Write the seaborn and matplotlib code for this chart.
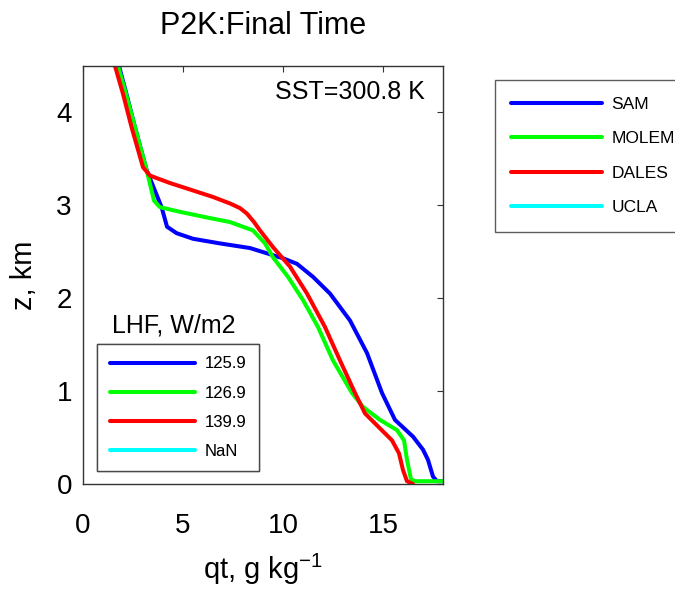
import numpy as np
import pandas as pd
import matplotlib
matplotlib.use("Agg")
import matplotlib.pyplot as plt
from matplotlib.lines import Line2D
import seaborn as sns

# ---- data ----
models = ["SAM", "MOLEM", "DALES", "UCLA"]
lhf_labels = ["125.9", "126.9", "139.9", "NaN"]
colors = ["#0000ff", "#00ff00", "#ff0000", "#00ffff"]

z_sam = [4.5, 4.2, 3.84, 3.38, 2.98, 2.77, 2.70, 2.64, 2.59, 2.54, 2.48, 2.43, 2.37,
         2.23, 2.05, 1.76, 1.41, 0.98, 0.69, 0.51, 0.37, 0.26, 0.08, 0.03, 0.03]
qt_sam = [1.8, 2.17, 2.6, 3.18, 3.93, 4.2, 4.68, 5.5, 6.85, 8.35, 9.25, 10.0, 10.7,
          11.5, 12.35, 13.35, 14.2, 14.95, 15.6, 16.5, 17.0, 17.25, 17.5, 17.7, 18.5]

z_molem = [4.5, 4.2, 3.84, 3.38, 3.05, 2.98, 2.93, 2.87, 2.82, 2.73, 2.59, 2.44, 2.23,
           1.98, 1.69, 1.33, 0.98, 0.83, 0.69, 0.58, 0.47, 0.26, 0.05, 0.03, 0.03]
qt_molem = [1.75, 2.15, 2.6, 3.18, 3.55, 3.85, 4.85, 6.18, 7.35, 8.5, 9.1, 9.5, 10.25,
            11.0, 11.75, 12.5, 13.45, 14.0, 14.85, 15.7, 16.05, 16.2, 16.4, 16.6, 18.5]

z_dales = [4.5, 4.2, 3.84, 3.41, 3.32, 3.24, 3.16, 3.09, 3.02, 2.97, 2.91, 2.82, 2.73,
           2.55, 2.34, 2.05, 1.69, 1.33, 0.98, 0.76, 0.62, 0.47, 0.33, 0.15, 0.03, 0.0]
qt_dales = [1.6, 2.0, 2.43, 3.0, 3.35, 4.35, 5.5, 6.5, 7.35, 7.85, 8.2, 8.55, 8.85,
            9.5, 10.35, 11.2, 12.1, 12.85, 13.6, 14.1, 14.75, 15.45, 15.8, 16.0, 16.2, 16.5]

z_ucla = []
qt_ucla = []

x_ticks = [0, 5, 10, 15]
y_ticks = [0, 1, 2, 3, 4]

# ---- build long table ----
frames = []
for name, z, q in zip(models, [z_sam, z_molem, z_dales, z_ucla],
                      [qt_sam, qt_molem, qt_dales, qt_ucla]):
    frames.append(pd.DataFrame({"model": name, "z": z, "qt": q}))
df = pd.concat(frames, ignore_index=True)

sns.set_style("white")
plt.rcParams["font.family"] = ["Liberation Sans", "DejaVu Sans"]
plt.rcParams["mathtext.fontset"] = "custom"
plt.rcParams["mathtext.rm"] = "Liberation Sans"
plt.rcParams["mathtext.default"] = "regular"
for k in ["text.color", "axes.labelcolor", "xtick.labelcolor", "ytick.labelcolor"]:
    plt.rcParams[k] = "black"

fig = plt.figure(figsize=(6.75, 5.97), dpi=100)
ax = fig.add_axes([83/675, 1-484/597, 360/675, 418/597])

palette = dict(zip(models, colors))
for name in models:
    sub = df[df["model"] == name]
    if len(sub) == 0:
        continue
    sns.lineplot(data=sub, x="qt", y="z", sort=False, estimator=None,
                 color=palette[name], lw=2.9, ax=ax, legend=False)

ax.set_xlim(0, 18)
ax.set_ylim(0, 4.5)
ax.set_xticks(x_ticks)
ax.set_yticks(y_ticks)
ax.tick_params(axis="both", direction="in", top=True, right=True, length=4,
               width=0.8, labelsize=20, color="#333333")
ax.tick_params(axis="x", pad=21)
ax.tick_params(axis="y", pad=8)
for s in ax.spines.values():
    s.set_color("#333333")
    s.set_linewidth(1.0)

ax.set_xlabel("qt, g kg$^{-1}$", fontsize=21, labelpad=9)
ax.set_ylabel("z, km", fontsize=21, labelpad=13)
ax.set_title("P2K:Final Time", fontsize=22, pad=23)

ax.text(0.95, 0.921, "SST=300.8 K", transform=ax.transAxes, ha="right",
        va="baseline", fontsize=18)
ax.text(0.08, 0.362, "LHF, W/m2", transform=ax.transAxes, ha="left",
        va="baseline", fontsize=18)

handles = [Line2D([], [], color=c, lw=2.9) for c in colors]

leg1 = ax.legend(handles, lhf_labels, loc="upper left",
                 bbox_to_anchor=(0.039, 0.335), fontsize=12, frameon=True,
                 fancybox=False, edgecolor="#333333", handlelength=5.1,
                 handletextpad=0.6, labelspacing=0.85, borderpad=0.75,
                 borderaxespad=0)
leg1.get_frame().set_linewidth(1.0)
ax.add_artist(leg1)

leg2 = fig.legend(handles, models, loc="upper left",
                  bbox_to_anchor=(495/675, 1-80/597), fontsize=12.5, frameon=True,
                  fancybox=False, edgecolor="#333333", handlelength=5.2,
                  handletextpad=0.57, labelspacing=1.12, borderpad=0.95,
                  borderaxespad=0)
leg2.get_frame().set_linewidth(1.0)

fig.savefig("out.png", dpi=100)
